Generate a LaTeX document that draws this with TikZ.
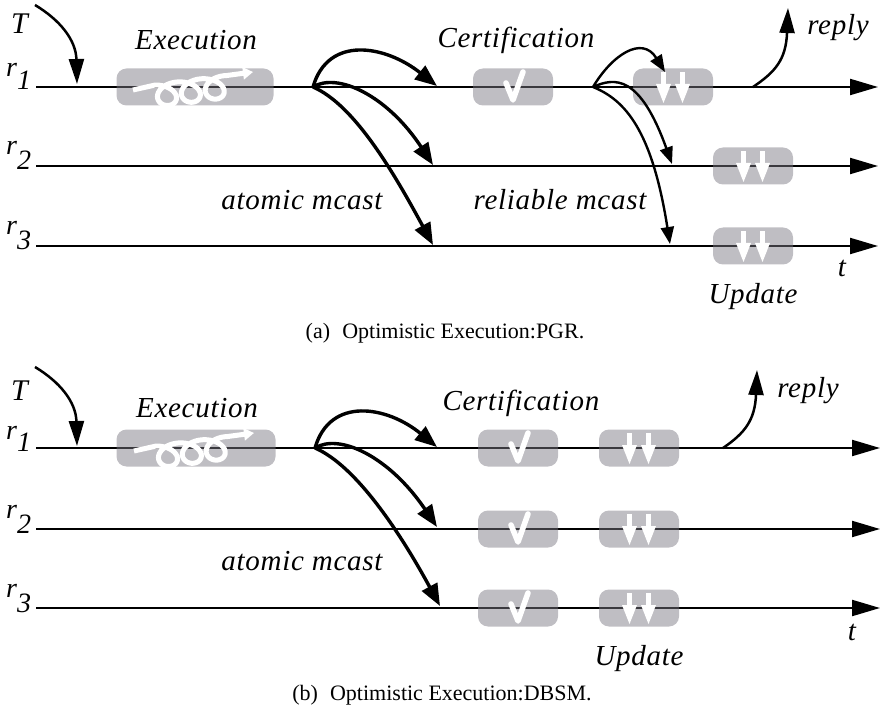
\documentclass[tikz,border=0pt]{standalone}
\usepackage{fontspec}
\setmainfont{Liberation Serif}[ItalicFont={Liberation Serif Italic}]
\usetikzlibrary{arrows.meta}
\definecolor{boxgray}{RGB}{122,120,130}
\newcommand{\lblfont}{\fontsize{29}{31}\selectfont\itshape\addfontfeatures{LetterSpace=2.5}}
\tikzset{
  lane/.style={line width=2.2pt, -{Triangle[length=28pt,width=16pt]}},
  phase/.style={fill=boxgray, fill opacity=0.48, rounded corners=10pt,
    minimum width=80pt, minimum height=37pt, inner sep=0pt, draw=none},
  amcast/.style={line width=3.4pt, -{Triangle[length=22pt,width=17pt]}},
  rmcast/.style={line width=2.4pt, -{Triangle[length=17pt,width=13pt]}},
  trig/.style={line width=2.5pt, -{Triangle[length=25pt,width=15pt]}},
  lbl/.style={font=\lblfont, inner sep=0pt, anchor=base},
  rlbl/.style={font=\fontsize{28}{30}\selectfont\itshape, inner sep=0pt, anchor=base west},
  captext/.style={font=\fontsize{22}{24}\selectfont, inner sep=0pt, anchor=base},
  whitestroke/.style={white, line width=5.5pt, line cap=round, line join=round},
  checkicon/.pic={\draw[whitestroke] (-7,-4) -- (0,13) -- (10,-15);},
  updicon/.pic={
    \foreach \dx in {-9.5,9.5}{
      \fill[white] (\dx-2.5,-15) rectangle (\dx+2.5,0);
      \fill[white] (\dx-7.5,-3) -- (\dx+7.5,-3) -- (\dx,16) -- cycle;
    }},
  coil/.pic={
    \draw[white, line width=5pt, line join=round,
          -{Triangle[length=10pt,width=12pt]}]
      (-62,3) --
      plot[domain=pi:7*pi, samples=200, variable=\t]
        ({-51.9+3.8*\t-15*sin(\t r)},
         {1-0.1333*(-51.9+3.8*\t+62)+11+11*cos(\t r)})
      -- (58,-15);},
}
\begin{document}
\begin{tikzpicture}[x=1pt, y=-1pt]
\useasboundingbox (0,0) rectangle (881,711);

%% ---------- (a) PGR ----------
\coordinate (a1s) at (36,87);   \coordinate (a1e) at (878,87);
\coordinate (a2s) at (36,166);  \coordinate (a2e) at (878,166);
\coordinate (a3s) at (36,246);  \coordinate (a3e) at (878,246);
\draw[lane] (a1s) -- (a1e);
\draw[lane] (a2s) -- (a2e);
\draw[lane] (a3s) -- (a3e);

\node[rlbl] (ar1) at (6,77)  {r\raisebox{-13pt}{1}};
\node[rlbl] (ar2) at (6,155) {r\raisebox{-15pt}{2}};
\node[rlbl] (ar3) at (6,235) {r\raisebox{-15pt}{3}};

\node[phase, minimum width=157pt] (aexec) at (195,87) {};
\pic at (aexec) {coil};
\node[phase] (acert) at (513,87) {};
\pic at (acert) {checkicon};
\node[phase] (aupd1) at (673,87) {};
\pic at (aupd1) {updicon};
\node[phase] (aupd2) at (753,166) {};
\pic at (aupd2) {updicon};
\node[phase] (aupd3) at (753,246) {};
\pic at (aupd3) {updicon};

\node[lbl, font=\fontsize{30}{32}\selectfont\itshape, anchor=base west] (aT) at (11,34) {T};
\node[lbl] (aexecl) at (196,50) {Execution};
\node[lbl] (acertl) at (516,48) {Certification};
\node[lbl] (areply) at (838,35) {reply};
\node[lbl] (aatom) at (302,210) {atomic mcast};
\node[lbl] (arel) at (560,210) {reliable mcast};
\node[lbl] (at) at (842,277) {t};
\node[lbl] (aupdl) at (753,304) {Update};
\node[captext] (acap) at (445,338) {(a)\hspace{0.55em}Optimistic Execution:PGR.};

% client request
\coordinate (aTs) at (35,5);  \coordinate (aTe) at (77,84);
\draw[trig] (aTs) .. controls (60,20) and (76,40) .. (aTe);

% atomic multicast
\coordinate (aam) at (313,87);
\coordinate (aam1) at (437,86);
\coordinate (aam2) at (433,165);
\coordinate (aam3) at (433,245);
\draw[amcast] (aam) .. controls (328,35) and (385,45) .. (aam1);
\draw[amcast] (aam) .. controls (337,72) and (387,95) .. (aam2);
\draw[amcast] (aam) .. controls (355,105) and (395,175) .. (aam3);

% reliable multicast
\coordinate (arm) at (593,87);
\coordinate (arm1) at (665,72);
\coordinate (arm2) at (672,164);
\coordinate (arm3) at (670,244);
\draw[rmcast] (arm) .. controls (612,55) and (642,35) .. (arm1);
\draw[rmcast] (arm) .. controls (615,77) and (640,75) .. (arm2);
\draw[rmcast] (arm) .. controls (625,100) and (652,130) .. (arm3);

% reply
\coordinate (ars) at (753,87); \coordinate (are) at (788,8);
\draw[trig] (ars) .. controls (775,72) and (786,60) .. (are);

%% ---------- (b) DBSM ----------
\coordinate (b1s) at (36,448);  \coordinate (b1e) at (880,448);
\coordinate (b2s) at (36,529);  \coordinate (b2e) at (880,529);
\coordinate (b3s) at (36,608);  \coordinate (b3e) at (880,608);
\draw[lane] (b1s) -- (b1e);
\draw[lane] (b2s) -- (b2e);
\draw[lane] (b3s) -- (b3e);

\node[rlbl] (br1) at (6,439) {r\raisebox{-12pt}{1}};
\node[rlbl] (br2) at (6,518) {r\raisebox{-15pt}{2}};
\node[rlbl] (br3) at (6,597) {r\raisebox{-15pt}{3}};

\node[phase, minimum width=159pt] (bexec) at (196,448) {};
\pic at (bexec) {coil};
\node[phase] (bcert1) at (518,448) {};
\pic at (bcert1) {checkicon};
\node[phase] (bcert2) at (518,529) {};
\pic at (bcert2) {checkicon};
\node[phase] (bcert3) at (518,608) {};
\pic at (bcert3) {checkicon};
\node[phase] (bupd1) at (639,448) {};
\pic at (bupd1) {updicon};
\node[phase] (bupd2) at (639,529) {};
\pic at (bupd2) {updicon};
\node[phase] (bupd3) at (639,608) {};
\pic at (bupd3) {updicon};

\node[lbl, font=\fontsize{30}{32}\selectfont\itshape, anchor=base west] (bT) at (11,400) {T};
\node[lbl] (bexecl) at (197,417) {Execution};
\node[lbl] (bcertl) at (521,410) {Certification};
\node[lbl] (breply) at (808,397) {reply};
\node[lbl] (batom) at (302,570) {atomic mcast};
\node[lbl] (bt) at (852,640) {t};
\node[lbl] (bupdl) at (639,665) {Update};
\node[captext] (bcap) at (442,700) {(b)\hspace{0.55em}Optimistic Execution:DBSM.};

% client request
\coordinate (bTs) at (35,367); \coordinate (bTe) at (77,446);
\draw[trig] (bTs) .. controls (60,382) and (76,402) .. (bTe);

% atomic multicast
\coordinate (bam) at (315,448);
\coordinate (bam1) at (437,447);
\coordinate (bam2) at (437,527);
\coordinate (bam3) at (440,606);
\draw[amcast] (bam) .. controls (330,396) and (387,406) .. (bam1);
\draw[amcast] (bam) .. controls (339,433) and (389,456) .. (bam2);
\draw[amcast] (bam) .. controls (357,466) and (402,536) .. (bam3);

% reply
\coordinate (brs) at (723,448); \coordinate (bre) at (757,370);
\draw[trig] (brs) .. controls (745,433) and (755,420) .. (bre);
\end{tikzpicture}
\end{document}
